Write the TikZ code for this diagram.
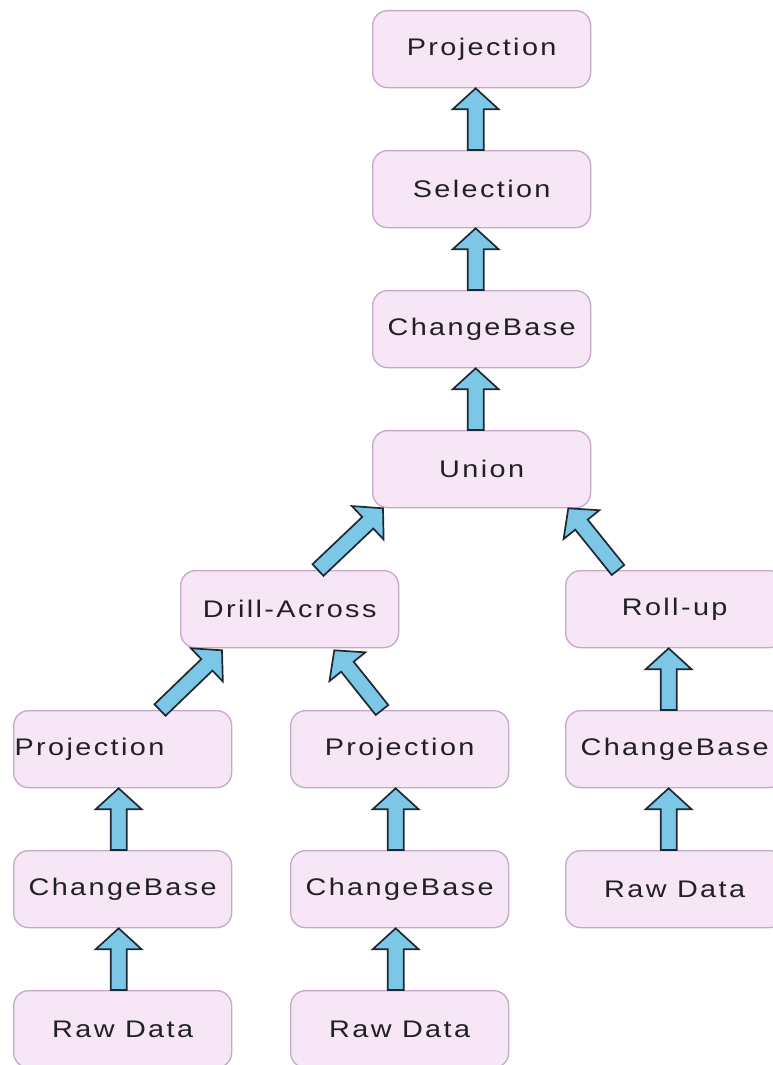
\documentclass[tikz,border=0pt]{standalone}
\usepackage{fontspec}
\setmainfont{Liberation Sans}[FakeStretch=1.2,LetterSpace=10]
\usetikzlibrary{calc}

\definecolor{boxfill}{RGB}{246,230,246}
\definecolor{boxline}{RGB}{196,170,200}
\definecolor{arrowfill}{RGB}{124,198,230}
\definecolor{arrowline}{RGB}{30,40,50}
\definecolor{txt}{RGB}{32,32,38}

\tikzset{
  op/.style={draw=boxline, fill=boxfill, line width=1.3pt, rounded corners=15pt,
    minimum width=218pt, minimum height=77pt, inner sep=0pt,
    font=\fontsize{24}{28}\selectfont, text=txt, anchor=north west},
  % block arrow: shaft 16pt wide, head 46pt wide and 21pt long
  fat/.style={fill=arrowfill, draw=arrowline, line width=1.7pt, line join=miter,
    to path={let \p1=(\tikztostart), \p2=(\tikztotarget),
      \p3=($(\p2)!21pt!(\p1)$) in
      ($(\p1)!8pt!90:(\p2)$) -- ($(\p3)!8pt!90:(\p2)$) --
      ($(\p3)!23pt!90:(\p2)$) -- (\p2) -- ($(\p3)!23pt!-90:(\p2)$) --
      ($(\p3)!8pt!-90:(\p2)$) -- ($(\p1)!8pt!-90:(\p2)$) -- cycle}}
}

\begin{document}
\begin{tikzpicture}[x=1pt,y=-1pt]
  \fill[white] (0,0) rectangle (773,1065);
  \useasboundingbox (0,0) rectangle (773,1065);

  % operator boxes
  \node[op] (p0)    at (372,10)  {Projection};
  \node[op] (sel)   at (372,150) {Selection};
  \node[op] (cb0)   at (372,290) {ChangeBase};
  \node[op] (uni)   at (372,430) {Union};
  \node[op] (drill) at (180,570) {Drill-Across};
  \node[op] (roll)  at (565,570) {Roll-up};
  \node[op, text width=216pt, align=left, inner xsep=1pt] (p1) at (13,710) {Projection};
  \node[op] (p2)    at (290,710) {Projection};
  \node[op] (cb3)   at (565,710) {ChangeBase};
  \node[op] (cb1)   at (13,850)  {ChangeBase};
  \node[op] (cb2)   at (290,850) {ChangeBase};
  \node[op] (raw3)  at (565,850) {Raw Data};
  \node[op] (raw1)  at (13,990)  {Raw Data};
  \node[op] (raw2)  at (290,990) {Raw Data};

  % data flow, upwards
  \draw[fat] ($(sel.north)+(-6,0)$) to ($(p0.south)+(-6,0)$);
  \draw[fat] ($(cb0.north)+(-6,0)$) to ($(sel.south)+(-6,0)$);
  \draw[fat] ($(uni.north)+(-6,0)$) to ($(cb0.south)+(-6,0)$);

  \draw[fat] ($(drill.north west)+(138,0)$) to ($(uni.south west)+(11,0)$);
  \draw[fat] ($(roll.north west)+(53,0)$) to ($(uni.south east)+(-23,0)$);

  \draw[fat] ($(p1.north west)+(147,0)$) to ($(drill.south west)+(42,2)$);
  \draw[fat] ($(p2.north west)+(92,0)$) to ($(drill.south east)+(-65,2)$);

  \draw[fat] ($(cb1.north)+(-4,0)$) to ($(p1.south)+(-4,0)$);
  \draw[fat] ($(raw1.north)+(-4,0)$) to ($(cb1.south)+(-4,0)$);
  \draw[fat] ($(cb2.north)+(-4,0)$) to ($(p2.south)+(-4,0)$);
  \draw[fat] ($(raw2.north)+(-4,0)$) to ($(cb2.south)+(-4,0)$);
  \draw[fat] ($(cb3.north)+(-6,0)$) to ($(roll.south)+(-6,0)$);
  \draw[fat] ($(raw3.north)+(-6,0)$) to ($(cb3.south)+(-6,0)$);
\end{tikzpicture}
\end{document}
